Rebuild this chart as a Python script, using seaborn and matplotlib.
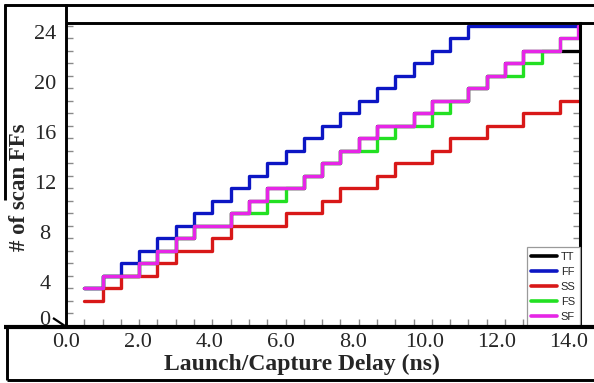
import numpy as np
import pandas as pd
import matplotlib
matplotlib.use("Agg")
import matplotlib.pyplot as plt
import matplotlib.transforms as mtransforms
from matplotlib.lines import Line2D
from matplotlib.ticker import MultipleLocator, FixedLocator
import seaborn as sns

# Launch/capture delay sweep (ns) and number of scan flip-flops per process corner
delay_ns = [0.5, 1.0, 1.5, 2.0, 2.5, 3.0, 3.5, 4.0, 4.5, 5.0, 5.5, 6.0, 6.5, 7.0,
            7.5, 8.0, 8.5, 9.0, 9.5, 10.0, 10.5, 11.0, 11.5, 12.0, 12.5, 13.0, 13.5, 14.0]
tt = [3, 4, 4, 5, 6, 7, 8, 8, 9, 10, 11, 11, 12, 13, 14, 15, 16, 16, 17, 18, 18, 19, 20, 21, 22, 22, 22, 22]
ff = [3, 4, 5, 6, 7, 8, 9, 10, 11, 12, 13, 14, 15, 16, 17, 18, 19, 20, 21, 22, 23, 24, 24, 24, 24, 24, 24, 24]
ss = [2, 3, 4, 4, 5, 6, 6, 7, 8, 8, 8, 9, 9, 10, 11, 11, 12, 13, 13, 14, 15, 15, 16, 16, 17, 17, 18, 18]
fs = [3, 4, 4, 5, 6, 7, 8, 8, 9, 9, 10, 11, 12, 13, 14, 14, 15, 16, 16, 17, 18, 19, 20, 20, 21, 22, 23, 23]
sf = [3, 4, 4, 5, 6, 7, 8, 8, 9, 10, 11, 11, 12, 13, 14, 15, 16, 16, 17, 18, 18, 19, 20, 21, 22, 22, 23, 24]

corners = ["TT", "FF", "SS", "FS", "SF"]
corner_colors = ["#000000", "#0c16c4", "#d81818", "#22e022", "#e626e6"]
x_ticks = [0, 2, 4, 6, 8, 10, 12, 14]
x_tick_labels = ["0.0", "2.0", "4.0", "6.0", "8.0", "10.0", "12.0", "14.0"]
y_ticks = [0, 4, 8, 12, 16, 20, 24]
y_tick_labels = ["0", "4", "8", "12", "16", "20", "24"]

sns.set_style("white")
plt.rcParams["font.family"] = ["Liberation Serif", "DejaVu Serif"]

W, H = 594, 383
fig = plt.figure(figsize=(W / 100, H / 100), dpi=100)
ax = fig.add_axes([66 / W, 1 - 326 / H, (580 - 66) / W, (326 - 23) / H])

df = pd.DataFrame({
    "delay": delay_ns * len(corners),
    "count": tt + ff + ss + fs + sf,
    "corner": np.repeat(corners, len(delay_ns)),
})
sns.lineplot(data=df, x="delay", y="count", hue="corner", hue_order=corners,
             palette=corner_colors, drawstyle="steps-post", linewidth=2.4,
             estimator=None, legend=False, ax=ax)

ax.set_xlim(0, 14.05)
ax.set_ylim(0, 24.2)
ax.set_xlabel("")
ax.set_ylabel("")

ax.xaxis.set_major_locator(FixedLocator(x_ticks))
ax.xaxis.set_minor_locator(MultipleLocator(0.5))
ax.set_xticklabels(x_tick_labels)
ax.yaxis.set_major_locator(FixedLocator(y_ticks))
ax.yaxis.set_minor_locator(MultipleLocator(1))
ax.set_yticklabels(y_tick_labels)

ax.tick_params(axis="x", which="both", direction="in", length=5, width=1,
               color="#8a8a8a", top=False, bottom=True, labelsize=16, pad=5)
ax.tick_params(axis="y", which="both", direction="in", length=5, width=1,
               color="#8a8a8a", left=True, right=True, labelsize=16, pad=15)

# tick label placement
for lab, v in zip(ax.get_xticklabels(), x_ticks):
    off = mtransforms.ScaledTranslation(-0.7 * v / 100, 0, fig.dpi_scale_trans)
    lab.set_transform(lab.get_transform() + off)
for lab, v in zip(ax.get_yticklabels(), y_ticks):
    lab.set_horizontalalignment("center")
    dy = 8 if v == 0 else -6
    off = mtransforms.ScaledTranslation(0, dy / 100, fig.dpi_scale_trans)
    lab.set_transform(lab.get_transform() + off)

for side in ["top", "left", "bottom"]:
    ax.spines[side].set_visible(False)
ax.spines["right"].set_linewidth(2.2)
ax.spines["right"].set_color("black")

# legend
handles = [Line2D([0], [0], color=c, lw=2.6) for c in corner_colors]
leg = ax.legend(handles, corners, loc="lower right", bbox_to_anchor=(1.0, 0.0),
                borderaxespad=0, frameon=True, fancybox=False, framealpha=1,
                edgecolor="#9a9a9a", handlelength=2.3, handletextpad=0.35,
                labelspacing=0.45, borderpad=0.4,
                prop={"family": "Liberation Sans", "size": 8})
leg.get_frame().set_linewidth(0.9)


def frame_line(x0, y0, x1, y1, lw):
    fig.add_artist(Line2D([x0 / W, x1 / W], [1 - y0 / H, 1 - y1 / H],
                          transform=fig.transFigure, color="black", lw=lw,
                          solid_capstyle="butt"))


# outer panel frame
frame_line(4, 4.5, W, 4.5, 2.1)
frame_line(4.5, 4, 4.5, 200, 2.1)
frame_line(66, 4, 66, 327, 2.1)
frame_line(66, 23, W, 23, 2.1)
frame_line(4, 327, W, 327, 3.0)
frame_line(6.5, 327, 6.5, 380, 2.1)
frame_line(6.5, 380, W, 380, 2.1)
frame_line(53, 318, 65, 326, 1.6)

fig.text(301.5 / W, 1 - 370 / H, "Launch/Capture Delay (ns)", ha="center",
         va="baseline", fontsize=17, fontweight="bold")
fig.text(19.5 / W, 1 - 187 / H, "# of scan FFs", rotation=90, ha="center",
         va="center", fontsize=16.5, fontweight="bold")

fig.savefig("out.png", dpi=100)
